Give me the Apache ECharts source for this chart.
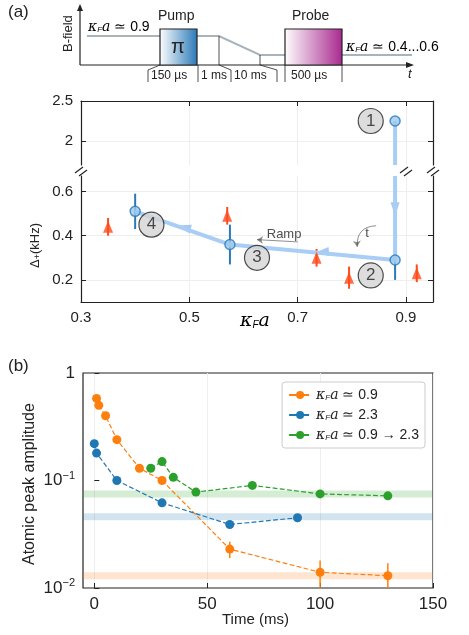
<!DOCTYPE html>
<html><head><meta charset="utf-8">
<script src="https://cdn.jsdelivr.net/npm/echarts@6/dist/echarts.min.js"></script>
<style>body{margin:0;background:#fff}#c{width:469px;height:635px}</style>
</head><body><div id="c"></div>
<script>
// panel (a) data
var stepTop = [[0.88, 2.25]];
var stepPts = [[0.88, 0.29], [0.575, 0.36], [0.40, 0.51]];
var stepErr = [[0.88, 0.20, 0.37], [0.575, 0.27, 0.45], [0.40, 0.43, 0.59]];
var triPts = [[0.35, 0.44], [0.57, 0.49], [0.735, 0.30], [0.795, 0.21], [0.92, 0.23]];
var triErr = [[0.35, 0.40, 0.48], [0.57, 0.45, 0.53], [0.735, 0.26, 0.34], [0.795, 0.16, 0.26], [0.92, 0.19, 0.27]];
var numTop = [[0.835, 2.25, '1']];
var numBot = [[0.835, 0.22, '2'], [0.625, 0.30, '3'], [0.43, 0.45, '4']];
var arrowPts = [[0.88, 0.52, 180], [0.745, 0.326, 95], [0.49, 0.438, 75]];
var xTicksA = [0.3, 0.5, 0.7, 0.9];
var yTicksTop = [2, 2.5];
var yTicksBot = [0.2, 0.4, 0.6];

// panel (b) data
var orangeT = [1, 2, 5, 10, 20, 30, 60, 100, 130];
var orangeV = [0.58, 0.50, 0.40, 0.24, 0.13, 0.10, 0.023, 0.014, 0.013];
var orangeE = [[60, 0.019, 0.027], [100, 0.010, 0.018], [130, 0.010, 0.017]];
var blueT = [0, 1, 10, 30, 60, 90];
var blueV = [0.22, 0.18, 0.10, 0.062, 0.039, 0.045];
var greenT = [25, 30, 35, 45, 70, 100, 130];
var greenV = [0.13, 0.15, 0.107, 0.078, 0.09, 0.075, 0.072];
var bandV = [0.013, 0.046, 0.075];
var xTicksB = [0, 50, 100, 150];
var names = ['κFa ≃ 0.9', 'κFa ≃ 2.3', 'κFa ≃ 0.9 → 2.3'];

var C_OR = '#ff7f0e', C_BL = '#1f77b4', C_GR = '#2ca02c';
var FONT = 'Liberation Sans';
var chart = echarts.init(document.getElementById('c'));

function zip(t, v) { return t.map(function (x, i) { return [x, v[i]]; }); }
function errSeries(data, xi, yi, color, w) {
  return {
    type: 'custom', xAxisIndex: xi, yAxisIndex: yi, data: data, z: 3, silent: true,
    renderItem: function (p, api) {
      var a = api.coord([api.value(0), api.value(1)]), b = api.coord([api.value(0), api.value(2)]);
      return { type: 'line', shape: { x1: a[0], y1: a[1], x2: b[0], y2: b[1] }, style: { stroke: color, lineWidth: w } };
    }
  };
}
function band(v, color) {
  return { type: 'line', xAxisIndex: 2, yAxisIndex: 4, data: [[-5, v], [150, v]], symbol: 'none', silent: true, z: 1,
    lineStyle: { color: color, width: 7, opacity: 0.2 } };
}
var axLine = { lineStyle: { color: '#222', width: 1.2 } };
var tick = { inside: true, length: 5, lineStyle: { color: '#222' } };
function ticksAt(v) { return Object.assign({ customValues: v }, tick); }
function labAt(v, fmt) { return { color: '#222', fontSize: 15, fontFamily: FONT, customValues: v, formatter: fmt }; }
var split = { show: true, lineStyle: { color: '#eee' } };

function kfa(rest) { return '{i|κ}{s|F}{i|a}{n|' + rest + '}'; }
var kRich = {
  i: { fontStyle: 'italic', fontSize: 14, fontFamily: 'DejaVu Serif', color: '#222' },
  s: { fontSize: 8, fontStyle: 'italic', verticalAlign: 'bottom', padding: [6, 0, 0, 0], color: '#222' },
  n: { fontSize: 14, fontFamily: FONT, color: '#222' }
};

var breakMark = function (x, y) {
  return { type: 'group', x: x, y: y, children: [
    { type: 'line', shape: { x1: -6, y1: 3, x2: 2, y2: -3 }, style: { stroke: '#222', lineWidth: 1.2 } },
    { type: 'line', shape: { x1: -2, y1: 6, x2: 6, y2: 0 }, style: { stroke: '#222', lineWidth: 1.2 } }
  ] };
};

var graphic = [
  { type: 'text', left: 8, top: 4, style: { text: '(a)', font: '17px ' + FONT, fill: '#222' } },
  { type: 'text', left: 8, top: 358, style: { text: '(b)', font: '17px ' + FONT, fill: '#222' } },
  // pulse sequence schematic
  { type: 'line', shape: { x1: 80, y1: 65, x2: 80, y2: 6 }, style: { stroke: '#222', lineWidth: 1.2 } },
  { type: 'polygon', shape: { points: [[77, 11], [83, 11], [80, 4]] }, style: { fill: '#222' } },
  { type: 'line', shape: { x1: 80, y1: 65, x2: 410, y2: 65 }, style: { stroke: '#222', lineWidth: 1.2 } },
  { type: 'polygon', shape: { points: [[406, 62], [406, 68], [414, 65]] }, style: { fill: '#222' } },
  { type: 'text', x: 62, y: 52, rotation: Math.PI / 2, style: { text: 'B-field', font: '13px ' + FONT, fill: '#222' } },
  { type: 'polyline', shape: { points: [[87, 36], [160, 36]] }, style: { stroke: '#a8b4bc', lineWidth: 2 } },
  { type: 'polyline', shape: { points: [[197, 36], [219, 36], [260, 55], [285, 55]] }, style: { stroke: '#a8b4bc', lineWidth: 2 } },
  { type: 'polyline', shape: { points: [[342, 55], [412, 55]] }, style: { stroke: '#a8b4bc', lineWidth: 2 } },
  { type: 'rect', shape: { x: 160, y: 29, width: 37, height: 36 }, style: { stroke: '#222', lineWidth: 1.2,
    fill: new echarts.graphic.LinearGradient(0, 0, 1, 0, [{ offset: 0, color: '#fff' }, { offset: 1, color: '#2a78b6' }]) } },
  { type: 'rect', shape: { x: 285, y: 29, width: 57, height: 36 }, style: { stroke: '#222', lineWidth: 1.2,
    fill: new echarts.graphic.LinearGradient(0, 0, 1, 0, [{ offset: 0, color: '#fff' }, { offset: 1, color: '#a8288e' }]) } },
  { type: 'text', x: 171, y: 37, style: { text: 'π', font: '20px ' + FONT, fill: '#222' } },
  { type: 'text', x: 158, y: 9, style: { text: 'Pump', font: '14px ' + FONT, fill: '#222' } },
  { type: 'text', x: 292, y: 9, style: { text: 'Probe', font: '14px ' + FONT, fill: '#222' } },
  { type: 'line', shape: { x1: 219, y1: 36, x2: 219, y2: 65 }, style: { stroke: '#222', lineWidth: 0.8 } },
  { type: 'line', shape: { x1: 260, y1: 55, x2: 260, y2: 65 }, style: { stroke: '#222', lineWidth: 0.8 } },
  { type: 'polyline', shape: { points: [[148, 82], [148, 70], [160, 65]] }, style: { stroke: '#222', lineWidth: 0.8, fill: null } },
  { type: 'line', shape: { x1: 198, y1: 65, x2: 198, y2: 82 }, style: { stroke: '#222', lineWidth: 0.8 } },
  { type: 'polyline', shape: { points: [[231, 82], [231, 70], [219, 65]] }, style: { stroke: '#222', lineWidth: 0.8, fill: null } },
  { type: 'polyline', shape: { points: [[277, 82], [277, 70], [260, 65]] }, style: { stroke: '#222', lineWidth: 0.8, fill: null } },
  { type: 'line', shape: { x1: 285, y1: 65, x2: 285, y2: 82 }, style: { stroke: '#222', lineWidth: 0.8 } },
  { type: 'line', shape: { x1: 342, y1: 65, x2: 342, y2: 82 }, style: { stroke: '#222', lineWidth: 0.8 } },
  { type: 'text', x: 151, y: 70, style: { text: '150 µs', font: '12px ' + FONT, fill: '#222' } },
  { type: 'text', x: 201, y: 70, style: { text: '1 ms', font: '12px ' + FONT, fill: '#222' } },
  { type: 'text', x: 234, y: 70, style: { text: '10 ms', font: '12px ' + FONT, fill: '#222' } },
  { type: 'text', x: 291, y: 70, style: { text: '500 µs', font: '12px ' + FONT, fill: '#222' } },
  { type: 'text', x: 408, y: 68, style: { text: 't', font: 'italic 13px ' + FONT, fill: '#222' } },
  { type: 'text', x: 88, y: 20, style: { text: kfa(' ≃ 0.9'), rich: kRich } },
  { type: 'text', x: 346, y: 40, style: { text: kfa(' ≃ 0.4...0.6'), rich: kRich } },
  // axis names
  { type: 'text', x: 28, y: 268, rotation: Math.PI / 2, style: { text: '{a|Δ}{s|+}{a|(kHz)}',
    rich: { a: { font: '13px ' + FONT, fill: '#222' }, s: { font: '9px ' + FONT, fill: '#222', padding: [5, 0, 0, 0] } } } },
  { type: 'text', x: 240, y: 312, style: { text: '{i|κ}{s|F}{i|a}', rich: {
    i: { fontStyle: 'italic', fontSize: 19, fontFamily: 'DejaVu Serif', color: '#222' },
    s: { fontSize: 10, fontStyle: 'italic', padding: [8, 0, 0, 0], color: '#222' } } } },
  { type: 'text', x: 22, y: 565, rotation: Math.PI / 2, style: { text: 'Atomic peak amplitude', font: '16px ' + FONT, fill: '#222' } },
  { type: 'text', x: 222, y: 612, style: { text: 'Time (ms)', font: '15px ' + FONT, fill: '#222' } },
  breakMark(81, 170), breakMark(433, 170), breakMark(406, 170)
];

var oneDec = function (v) { return v.toFixed(1); };
var option = {
  animation: false,
  textStyle: { fontFamily: FONT },
  graphic: graphic,
  grid: [
    { left: 81, width: 352, top: 101, height: 64 },
    { left: 81, width: 352, top: 176, height: 126 },
    { left: 83, width: 350, top: 373, height: 215, show: true, borderColor: '#222', borderWidth: 1.2 }
  ],
  xAxis: [
    { gridIndex: 0, type: 'value', position: 'top', min: 0.3, max: 0.95, axisLine: axLine, axisTick: ticksAt(xTicksA), axisLabel: { show: false },
      splitLine: split },
    { gridIndex: 1, type: 'value', min: 0.3, max: 0.95, axisLine: axLine, axisTick: ticksAt(xTicksA), axisLabel: labAt(xTicksA, oneDec),
      splitLine: split },
    { gridIndex: 2, type: 'value', min: -5, max: 150, axisLine: { show: false }, axisTick: ticksAt(xTicksB),
      axisLabel: { color: '#222', fontSize: 17, fontFamily: FONT, customValues: xTicksB },
      splitLine: split }
  ],
  yAxis: [
    { gridIndex: 0, type: 'value', min: 1.7, max: 2.5, axisLine: axLine, axisTick: ticksAt(yTicksTop),
      axisLabel: labAt(yTicksTop, function (v) { return String(v); }), splitLine: split },
    { gridIndex: 0, type: 'value', position: 'right', min: 1.7, max: 2.5, axisLine: axLine, axisTick: ticksAt(yTicksTop), axisLabel: { show: false }, splitLine: { show: false } },
    { gridIndex: 1, type: 'value', min: 0.1, max: 0.67, axisLine: axLine, axisTick: ticksAt(yTicksBot),
      axisLabel: labAt(yTicksBot, oneDec), splitLine: split },
    { gridIndex: 1, type: 'value', position: 'right', min: 0.1, max: 0.67, axisLine: axLine, axisTick: ticksAt(yTicksBot), axisLabel: { show: false }, splitLine: { show: false } },
    { gridIndex: 2, type: 'log', min: 0.01, max: 1, axisLine: { show: false }, axisTick: tick, splitLine: { show: false }, minorTick: { show: false },
      axisLabel: { fontFamily: FONT, formatter: function (v) { return v >= 1 ? '{n|1}' : '{n|10}{s|' + (v < 0.05 ? '−2' : '−1') + '}'; },
        rich: { n: { fontSize: 17, color: '#222' }, s: { fontSize: 11, color: '#222', padding: [0, 0, 10, 0] } } } }
  ],
  legend: {
    data: names, orient: 'vertical', right: 44, top: 382, itemGap: 6, itemWidth: 22, itemHeight: 10,
    backgroundColor: '#fff', borderColor: '#ccc', borderWidth: 1, borderRadius: 3, padding: [6, 6, 6, 6],
    formatter: function (n) { return kfa(n.replace('κFa', '')); }, textStyle: { rich: kRich }
  },
  series: [
    // panel (a)
    { type: 'line', xAxisIndex: 0, yAxisIndex: 0, data: [[0.88, 2.25], [0.88, 1.7]], symbol: 'none', lineStyle: { color: '#a9cdf5', width: 4 } },
    { type: 'line', xAxisIndex: 1, yAxisIndex: 2, data: [[0.88, 0.67]].concat(stepPts), symbol: 'none', lineStyle: { color: '#a9cdf5', width: 4 } },
    { type: 'scatter', xAxisIndex: 1, yAxisIndex: 2, data: arrowPts, symbol: 'triangle', symbolSize: [9, 14],
      symbolRotate: function (v) { return v[2]; }, itemStyle: { color: '#8fbdf0' } },
    errSeries(stepErr, 1, 2, '#2a7ab8', 2),
    errSeries(triErr, 1, 2, '#ff4a1a', 2),
    { type: 'scatter', xAxisIndex: 0, yAxisIndex: 0, data: stepTop, symbolSize: 10, z: 4, itemStyle: { color: '#9cc9ee', borderColor: '#2a7ab8', borderWidth: 1.5 } },
    { type: 'scatter', xAxisIndex: 1, yAxisIndex: 2, data: stepPts, symbolSize: 10, z: 4, itemStyle: { color: '#9cc9ee', borderColor: '#2a7ab8', borderWidth: 1.5 } },
    { type: 'scatter', xAxisIndex: 1, yAxisIndex: 2, data: triPts, symbol: 'triangle', symbolSize: [10, 12], z: 4, itemStyle: { color: '#ff4a1a' } },
    { type: 'scatter', xAxisIndex: 0, yAxisIndex: 0, data: numTop, symbolSize: 25, z: 5,
      itemStyle: { color: '#d4d4d4', borderColor: '#222', borderWidth: 1.2 },
      label: { show: true, position: 'inside', formatter: function (p) { return p.value[2]; }, fontSize: 17, color: '#222' } },
    { type: 'scatter', xAxisIndex: 1, yAxisIndex: 2, data: numBot, symbolSize: 25, z: 5,
      itemStyle: { color: '#d4d4d4', borderColor: '#222', borderWidth: 1.2 },
      label: { show: true, position: 'inside', formatter: function (p) { return p.value[2]; }, fontSize: 17, color: '#222' } },
    { type: 'lines', coordinateSystem: 'cartesian2d', xAxisIndex: 1, yAxisIndex: 2, symbol: ['none', 'arrow'], symbolSize: 6,
      lineStyle: { color: '#222', width: 1 },
      data: [{ coords: [[0.70, 0.372], [0.625, 0.382]] }, { coords: [[0.845, 0.445], [0.81, 0.35]], lineStyle: { curveness: -0.5 } }] },
    { type: 'scatter', xAxisIndex: 1, yAxisIndex: 2, data: [[0.675, 0.405, 'Ramp'], [0.828, 0.41, 't']], symbolSize: 0,
      label: { show: true, position: 'inside', formatter: function (p) { return p.value[2]; }, fontSize: 13, color: '#222' } },
    // panel (b)
    band(bandV[0], C_OR), band(bandV[1], C_BL), band(bandV[2], C_GR),
    { name: names[0], type: 'line', xAxisIndex: 2, yAxisIndex: 4, data: zip(orangeT, orangeV), symbol: 'circle', symbolSize: 9,
      itemStyle: { color: C_OR }, lineStyle: { type: 'dashed', width: 1.2, color: C_OR } },
    { name: names[1], type: 'line', xAxisIndex: 2, yAxisIndex: 4, data: zip(blueT, blueV), symbol: 'circle', symbolSize: 9,
      itemStyle: { color: C_BL }, lineStyle: { type: 'dashed', width: 1.2, color: C_BL } },
    { name: names[2], type: 'line', xAxisIndex: 2, yAxisIndex: 4, data: zip(greenT, greenV), symbol: 'circle', symbolSize: 9,
      itemStyle: { color: C_GR }, lineStyle: { type: 'dashed', width: 1.2, color: C_GR } },
    errSeries(orangeE, 2, 4, C_OR, 1.5)
  ]
};
chart.setOption(option);
</script></body></html>
